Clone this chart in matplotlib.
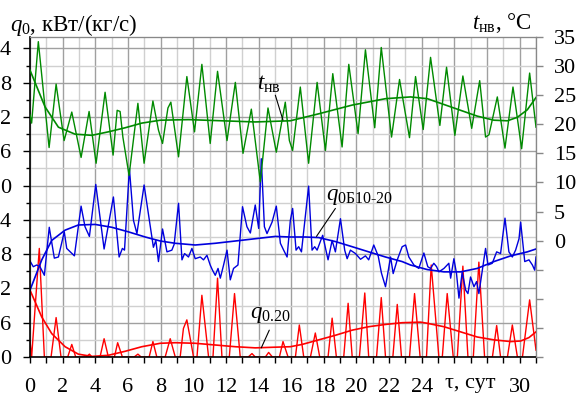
import numpy as np
from matplotlib import pyplot as plt
from matplotlib.ticker import MultipleLocator, FixedLocator, FuncFormatter

plt.rcParams['font.family'] = ['Liberation Serif', 'DejaVu Serif']
plt.rcParams['mathtext.fontset'] = 'custom'
plt.rcParams['mathtext.rm'] = 'Liberation Serif'
plt.rcParams['mathtext.it'] = 'Liberation Serif:italic'
plt.rcParams['font.size'] = 16

# outdoor temperature t_нв, hourly-ish
t_day = [0.00, 0.10, 0.51, 1.17, 1.60, 2.09, 2.56, 3.13, 3.62, 4.05, 4.60, 5.09,
         5.34, 5.52, 5.69, 6.07, 6.61, 6.99, 7.53, 7.87, 8.12, 8.45, 8.63, 9.10,
         9.61, 10.08, 10.53, 11.04, 11.49, 12.07, 12.58, 13.05, 13.56, 14.11, 14.58,
         15.09, 15.64, 15.89, 16.09, 16.56, 17.07, 17.59, 18.10, 18.55, 19.12, 19.53,
         20.10, 20.55, 21.12, 21.52, 22.15, 22.64, 23.25, 23.62, 24.09, 24.54, 25.11,
         25.52, 26.03, 26.52, 27.06, 27.55, 27.91, 28.12, 28.63, 29.10, 29.59, 30.12,
         30.61, 31.00]
t_val = [21.6, 20.2, 34.2, 16.0, 26.9, 17.2, 22.1, 14.3, 22.2, 13.3, 25.5, 14.7,
         22.4, 22.2, 17.8, 11.2, 23.6, 13.3, 24.0, 19.0, 16.7, 22.8, 23.8, 14.4,
         28.2, 18.7, 30.3, 16.7, 29.1, 17.2, 27.2, 15.0, 22.6, 10.1, 22.8,
         15.2, 23.8, 17.2, 15.5, 26.4, 13.3, 27.2, 15.5, 28.7, 16.1, 30.3,
         18.4, 32.8, 19.4, 33.2, 17.8, 27.7, 17.7, 28.2, 19.1, 31.5, 19.8,
         29.8, 18.1, 28.3, 19.3, 27.5, 17.8, 18.2, 24.7, 15.9, 26.4, 15.8,
         28.8, 19.5]

t_sm_day = [0.00, 0.92, 1.74, 2.76, 3.79, 4.80, 5.83, 6.85, 7.98, 9.71, 11.76, 13.80,
            15.95, 17.69, 19.74, 21.78, 23.31, 24.34, 25.36, 26.38, 27.40, 28.42,
            29.25, 29.86, 30.47, 31.00]
t_sm_val = [29.3, 23.0, 19.5, 18.3, 18.1, 18.7, 19.4, 20.2, 20.7, 20.8, 20.6, 20.4,
            20.6, 21.8, 23.3, 24.4, 24.7, 24.4, 23.4, 22.4, 21.4, 20.7,
            20.6, 21.2, 22.5, 24.6]

# q_0Б10-20
qb_day = [0.00, 0.20, 0.41, 0.61, 0.88, 1.18, 1.49, 1.74, 2.10, 2.25, 2.72, 3.13,
          3.37, 3.64, 4.03, 4.54, 5.11, 5.46, 5.66, 5.79, 6.09, 6.34, 6.55, 6.99,
          7.56, 7.71, 7.87, 8.12, 8.39, 8.69, 8.83, 9.10, 9.31, 9.47, 9.71, 9.92,
          10.12, 10.43, 10.63, 10.84, 11.04, 11.18, 11.35, 11.52, 11.66, 11.86, 12.07,
          12.27, 12.47, 12.74, 13.02, 13.29, 13.50, 13.80, 14.01, 14.17, 14.36, 14.52,
          14.83, 15.09, 15.34, 15.54, 15.75, 15.95, 16.09, 16.30, 16.46, 16.63, 17.07,
          17.28, 17.44, 17.59, 17.93, 18.26, 18.51, 18.71, 19.02, 19.28, 19.43, 19.63,
          19.94, 20.25, 20.55, 20.75, 21.06, 21.33, 21.53, 21.78, 22.09, 22.25, 22.50,
          22.80, 23.01, 23.21, 23.52, 23.82, 24.13, 24.37, 24.54, 24.74, 24.91, 25.05,
          25.36, 25.66, 25.77, 25.97, 26.13, 26.28, 26.48, 26.69, 26.83, 26.99, 27.20,
          27.36, 27.50, 27.71, 27.91, 28.06, 28.32, 28.59, 28.83, 29.10, 29.34, 29.55,
          29.75, 29.96, 30.06, 30.31, 30.57, 30.78, 30.92, 31.00]
qb_val = [0.168, 0.158, 0.161, 0.158, 0.143, 0.227, 0.173, 0.175, 0.219, 0.190, 0.177, 0.264,
          0.228, 0.211, 0.302, 0.189, 0.280, 0.175, 0.190, 0.187, 0.330, 0.239, 0.216, 0.301,
          0.192, 0.204, 0.167, 0.224, 0.184, 0.187, 0.197, 0.269, 0.170, 0.181, 0.175, 0.190,
          0.172, 0.175, 0.170, 0.178, 0.161, 0.152, 0.143, 0.155, 0.138, 0.161, 0.187,
          0.135, 0.155, 0.161, 0.263, 0.228, 0.217, 0.266, 0.225, 0.347, 0.228, 0.216,
          0.236, 0.264, 0.199, 0.187, 0.175, 0.239, 0.260, 0.187, 0.193, 0.184, 0.299,
          0.187, 0.193, 0.187, 0.213, 0.170, 0.204, 0.184, 0.242, 0.187, 0.172, 0.187,
          0.181, 0.171, 0.177, 0.170, 0.196, 0.177, 0.147, 0.123, 0.175, 0.146, 0.170,
          0.193, 0.196, 0.175, 0.161, 0.155, 0.182, 0.158, 0.155, 0.164, 0.158, 0.149,
          0.155, 0.164, 0.138, 0.172, 0.146, 0.103, 0.149, 0.117, 0.111, 0.140, 0.123,
          0.132, 0.111, 0.152, 0.190, 0.161, 0.164, 0.184, 0.181, 0.243, 0.184, 0.175,
          0.187, 0.207, 0.236, 0.167, 0.170, 0.161, 0.152, 0.175]

qb_sm_day = [0.00, 0.72, 1.33, 2.15, 2.96, 3.99, 5.01, 6.03, 7.06, 7.98, 8.90, 10.12,
             11.35, 12.58, 13.80, 15.03, 15.95, 16.87, 17.69, 18.71, 19.74, 20.75,
             21.78, 22.80, 23.31, 24.34, 25.36, 26.38, 27.40, 28.42, 29.45, 30.47, 31.00]
qb_sm_val = [0.117, 0.170, 0.204, 0.222, 0.231, 0.232, 0.227, 0.219, 0.210, 0.203, 0.199, 0.196,
             0.199, 0.203, 0.207, 0.211, 0.210, 0.210, 0.209, 0.202, 0.193, 0.184,
             0.175, 0.167, 0.161, 0.153, 0.149, 0.149, 0.155, 0.167, 0.177, 0.184, 0.189]

# q_0.20
q2_day = [0.00, 0.10, 0.57, 0.88, 1.29, 1.60, 1.90, 2.31, 2.56, 2.80, 3.44, 3.64, 3.80,
          4.29, 4.54, 4.80, 5.17, 5.37, 5.66, 6.38, 6.61, 6.81, 7.30, 7.53, 7.77,
          8.28, 8.59, 8.90, 9.20, 9.40, 9.61, 10.02, 10.23, 10.53, 10.94, 11.21, 11.49,
          11.76, 12.21, 12.53, 12.88, 13.37, 13.60, 13.80, 14.42, 14.62, 14.85, 15.28,
          15.50, 15.81, 16.26, 16.50, 16.77, 17.18, 17.48, 17.75, 18.26, 18.51, 18.77,
          19.22, 19.49, 19.74, 20.18, 20.51, 20.75, 21.23, 21.52, 21.78, 22.23, 22.50,
          22.76, 23.25, 23.56, 23.90, 24.29, 24.58, 25.05, 25.26, 25.56, 25.93, 26.18,
          26.52, 26.83, 27.16, 27.50, 27.85, 28.33, 28.59, 28.83, 29.25, 29.55, 29.86,
          30.17, 30.61, 31.00]
q2_val = [0.028, 0.0, 0.190, 0.0, 0.0, 0.069, 0.0, 0.0, 0.022, 0.0, 0.0, 0.005, 0.0,
          0.0, 0.032, 0.0, 0.0, 0.025, 0.0, 0.0, 0.005, 0.0, 0.0, 0.027, 0.0,
          0.0, 0.032, 0.0, 0.0, 0.050, 0.065, 0.0, 0.0, 0.108, 0.0, 0.0, 0.138,
          0.0, 0.0, 0.111, 0.0, 0.0, 0.006, 0.0, 0.0, 0.008, 0.0, 0.0,
          0.027, 0.0, 0.0, 0.056, 0.0, 0.0, 0.042, 0.0, 0.0, 0.068, 0.0,
          0.0, 0.094, 0.0, 0.0, 0.112, 0.0, 0.0, 0.104, 0.0, 0.0, 0.092,
          0.0, 0.0, 0.111, 0.0, 0.0, 0.161, 0.0, 0.0, 0.111, 0.0, 0.0,
          0.159, 0.0, 0.0, 0.166, 0.0, 0.0, 0.055, 0.0, 0.0, 0.056, 0.0,
          0.0, 0.100, 0.012]

q2_sm_day = [0.00, 0.72, 1.33, 2.15, 2.96, 3.79, 4.80, 5.83, 6.85, 7.98, 8.90, 10.12,
             11.35, 12.58, 13.80, 14.83, 15.95, 16.67, 17.69, 18.71, 19.74, 20.75,
             21.78, 22.80, 23.93, 24.34, 25.36, 26.38, 27.40, 28.42, 29.45, 30.06,
             30.57, 31.00]
q2_sm_val = [0.117, 0.070, 0.041, 0.018, 0.005, 0.001, 0.003, 0.010, 0.018, 0.024, 0.025, 0.024,
             0.021, 0.018, 0.016, 0.017, 0.018, 0.022, 0.030, 0.038, 0.047, 0.053,
             0.057, 0.060, 0.061, 0.059, 0.053, 0.044, 0.035, 0.030, 0.027, 0.028,
             0.034, 0.044]

green = '#008a00'
blue = '#0000dd'
red = '#ff0000'
grey = '#888888'


def q_label(v, pos):
    # the picture is cropped on the left: only the last digit of each label shows
    s = '%.2f' % v
    return s[-1]


fig = plt.figure(figsize=(5.82, 3.96), dpi=100)
ax = fig.add_axes([30/582, 39/396, 506/582, 320/396])
ax.set_xlim(0, 31)
ax.set_ylim(0, 0.56)
ax.set_axisbelow(True)

ax.xaxis.set_major_locator(MultipleLocator(2))
ax.xaxis.set_minor_locator(MultipleLocator(1))
ax.xaxis.set_major_formatter(FuncFormatter(lambda v, p: '' if int(round(v)) in (26, 28) else '%d' % round(v)))
ax.yaxis.set_major_locator(MultipleLocator(0.06))
ax.yaxis.set_minor_locator(MultipleLocator(0.03))
ax.yaxis.set_major_formatter(FuncFormatter(q_label))
ax.tick_params(axis='x', which='both', direction='out', length=4.3, width=1.0, pad=10.5)
ax.tick_params(axis='y', which='major', direction='out', length=5.3, width=1.0, pad=8.4)
ax.tick_params(axis='y', which='minor', direction='out', length=3.0, width=1.0)
ax.grid(which='major', color='#a0a0a0', lw=1.0)
ax.grid(which='minor', color='#d0d0d0', lw=1.0)
for s in ('left', 'bottom'):
    ax.spines[s].set_color('black')
    ax.spines[s].set_linewidth(1.2)

ax.plot(q2_day, q2_val, color=red, lw=1.0)
ax.plot(q2_sm_day, q2_sm_val, color=red, lw=1.2)
ax.plot(qb_day, qb_val, color=blue, lw=1.0)
ax.plot(qb_sm_day, qb_sm_val, color=blue, lw=1.2)

ax2 = ax.twinx()
ax2.set_ylim(-20, 35)
ax2.yaxis.set_major_locator(FixedLocator(np.arange(-20, 36, 5)))
ax2.yaxis.set_major_formatter(FuncFormatter(lambda v, p: '' if v < 0 else '%d' % v))
ax2.tick_params(axis='y', direction='out', length=5.0, width=1.0, pad=8.0, color=grey)
for s in ('right', 'top'):
    ax2.spines[s].set_color(grey)
ax2.spines['left'].set_visible(False)
ax2.spines['bottom'].set_visible(False)
ax2.plot(t_day, t_val, color=green, lw=1.0)
ax2.plot(t_sm_day, t_sm_val, color=green, lw=1.2)

# axis captions
fig.text(10/582, 1 - 31/396, r'$q_0$, кВт/(кг/с)', fontsize=16.5, ha='left', va='baseline')
fig.text(531/582, 1 - 29/396, r'$t_{\mathrm{нв}}$, °C', fontsize=16.5, ha='right', va='baseline')
fig.text(470/582, 1 - 388/396, 'τ, сут', fontsize=16, ha='center', va='baseline')

# curve labels
line_kw = dict(arrowstyle='-', color='black', lw=0.8, shrinkA=0, shrinkB=0)
ax2.text(13.9, 26.0, r'$t_{\mathrm{нв}}$', fontsize=16.5, ha='left', va='baseline')
ax2.annotate('', xy=(15.5, 20.7), xytext=(15.03, 25.0), arrowprops=line_kw)
ax.text(18.15, 0.274, r'$q_{\text{0Б10-20}}$', fontsize=16.5, ha='left', va='baseline')
ax.annotate('', xy=(17.55, 0.211), xytext=(18.71, 0.260), arrowprops=line_kw)
ax.text(13.5, 0.068, r'$q_{0.20}$', fontsize=16.5, ha='left', va='baseline')
ax.annotate('', xy=(14.17, 0.016), xytext=(14.66, 0.047), arrowprops=line_kw)

fig.savefig('out.png', dpi=100)
